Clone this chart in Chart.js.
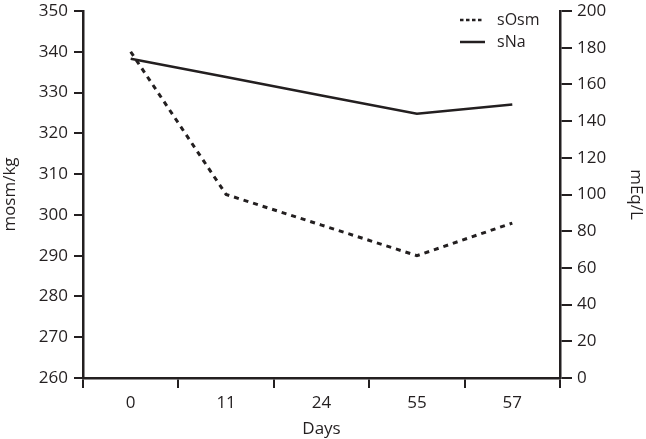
<!DOCTYPE html>
<html lang="en">
<head>
    <meta charset="UTF-8">
    <title>sOsm and sNa over days</title>
    <script src="https://cdn.jsdelivr.net/npm/chart.js"></script>
    <style>
        html, body { margin: 0; padding: 0; background: #fff; }
        #wrap { width: 646px; height: 439px; }
    </style>
</head>
<body>
    <div id="wrap"><canvas id="osmChart"></canvas></div>

    <script>
        // values
        const days = ['0', '11', '24', '55', '57'];
        const sOsm = [340, 305, 297.5, 290, 298];   // mosm/kg, left axis
        const sNa = [174, 164, 154, 144, 149];      // mEq/L, right axis

        const leftTicks = [260, 270, 280, 290, 300, 310, 320, 330, 340, 350];
        const rightTicks = [0, 20, 40, 60, 80, 100, 120, 140, 160, 180, 200];

        const font = { family: 'Open Sans', size: 17 };
        const ink = '#231f20';

        // small legend in the top right corner of the plot, line samples keep the dash
        const cornerLegend = {
            id: 'cornerLegend',
            afterDraw(chart) {
                const c = chart.ctx;
                const x0 = chart.chartArea.right - 100;
                const dashes = [[3.5, 2.5], []];
                const lens = [22, 25];
                c.save();
                c.font = '16px "Open Sans"';
                c.textBaseline = 'middle';
                c.fillStyle = ink;
                chart.data.datasets.forEach((ds, i) => {
                    const y = 20 + i * 22;
                    c.beginPath();
                    c.setLineDash(dashes[i]);
                    c.lineWidth = 2.5;
                    c.strokeStyle = ds.borderColor;
                    c.moveTo(x0, y);
                    c.lineTo(x0 + lens[i], y);
                    c.stroke();
                    c.fillText(ds.label, x0 + 37, y);
                });
                c.restore();
            }
        };

        // let the plot start near the top edge, like the figure
        const noTopPad = s => { s.paddingTop = 0; };

        const ctx = document.getElementById('osmChart').getContext('2d');
        const chart = new Chart(ctx, {
            type: 'line',
            data: {
                labels: days,
                datasets: [{
                    label: 'sOsm',
                    data: sOsm,
                    yAxisID: 'y',
                    borderColor: ink,
                    borderWidth: 3,
                    borderDash: [5, 5],
                    pointRadius: 0,
                    tension: 0
                }, {
                    label: 'sNa',
                    data: sNa,
                    yAxisID: 'y2',
                    borderColor: ink,
                    borderWidth: 2.5,
                    pointRadius: 0,
                    tension: 0
                }]
            },
            options: {
                responsive: true,
                maintainAspectRatio: false,
                animation: false,
                layout: { padding: { top: 11, left: 0, right: 0, bottom: 0 } },
                plugins: {
                    tooltip: { enabled: false },
                    legend: { display: false }
                },
                scales: {
                    x: {
                        offset: true,
                        grid: { offset: true, drawOnChartArea: false, color: ink, lineWidth: 2, tickLength: 10 },
                        border: { color: ink, width: 2.5 },
                        ticks: { color: ink, font: font, padding: 5 },
                        title: { display: true, text: 'Days', color: ink, font: font, padding: 0 },
                        afterFit: s => { s.height = 61; }
                    },
                    y: {
                        position: 'left',
                        min: 260,
                        max: 350,
                        afterBuildTicks: s => { s.ticks = leftTicks.map(v => ({ value: v })); },
                        grid: { drawOnChartArea: false, color: ink, lineWidth: 2, tickLength: 9 },
                        border: { color: ink, width: 2.5 },
                        ticks: { color: ink, font: font, padding: 6 },
                        title: { display: true, text: 'mosm/kg', color: ink, font: font, padding: 0 },
                        afterFit: s => { s.width = 83; noTopPad(s); }
                    },
                    y2: {
                        position: 'right',
                        min: 0,
                        max: 200,
                        afterBuildTicks: s => { s.ticks = rightTicks.map(v => ({ value: v })); },
                        grid: { drawOnChartArea: false, color: ink, lineWidth: 2, tickLength: 12 },
                        border: { color: ink, width: 2.5 },
                        ticks: { color: ink, font: font, padding: 5 },
                        title: { display: true, text: 'mEq/L', color: ink, font: font, padding: 0 },
                        afterFit: s => { s.width = 86; noTopPad(s); }
                    }
                }
            },
            plugins: [cornerLegend]
        });
    </script>
</body>
</html>
